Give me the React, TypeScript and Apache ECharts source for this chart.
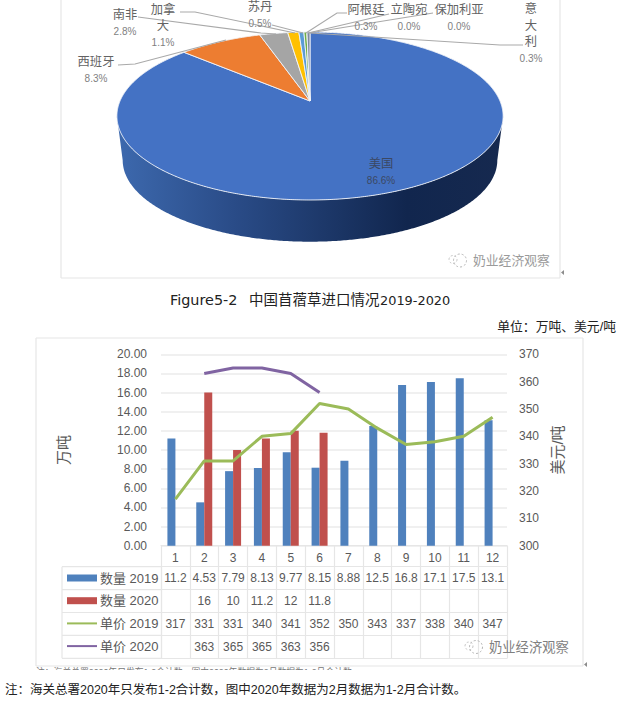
import React, { useEffect, useRef } from "react";
import * as echarts from "echarts";

// ---- data ----
const pieNames = ["美国", "西班牙", "南非", "加拿大", "苏丹", "阿根廷", "立陶宛", "保加利亚", "意大利"];
const pieValues = [86.6, 8.3, 2.8, 1.1, 0.5, 0.3, 0.0, 0.0, 0.3];
const months = ["1", "2", "3", "4", "5", "6", "7", "8", "9", "10", "11", "12"];
const qty2019 = [11.2, 4.53, 7.79, 8.13, 9.77, 8.15, 8.88, 12.5, 16.8, 17.1, 17.5, 13.1];
const qty2020 = [null, 16, 10, 11.2, 12, 11.8, null, null, null, null, null, null];
const price2019 = [317, 331, 331, 340, 341, 352, 350, 343, 337, 338, 340, 347];
const price2020 = [null, 363, 365, 365, 363, 356, null, null, null, null, null, null];
const seriesNames = ["数量 2019", "数量 2020", "单价 2019", "单价 2020"];
const tableRows = [qty2019, qty2020, price2019, price2020];
const leftTicks = [0, 20, 2];
const rightTicks = [300, 370, 10];

// ---- layout and style (separate from the data) ----
const pieColors = ["#4472c4", "#ed7d31", "#a5a5a5", "#ffc000", "#5b9bd5", "#70ad47", "#264478", "#9e480e", "#7f8aa0"];
const labelLayout: any[] = [
  { t: ["美国"], x: 381, y: 172, line: null, fill: "#3b4863", pct: "#3b4863" },
  { t: ["西班牙"], x: 96, y: 70, line: [[118, 65], [135, 64], [226, 40]] },
  { t: ["南非"], x: 125, y: 23, line: [[138, 17], [261, 33], [276, 34]] },
  { t: ["加拿", "大"], x: 163, y: 26, line: [[180, 12], [195, 12], [295, 33]] },
  { t: ["苏丹"], x: 260, y: 15, line: [[272, 25], [303, 33]] },
  { t: ["阿根廷"], x: 366, y: 18, line: [[347, 13], [337, 13], [306, 33]] },
  { t: ["立陶宛"], x: 409, y: 18, line: [[389, 14], [308, 33]] },
  { t: ["保加利亚"], x: 459, y: 18, line: [[433, 13], [309, 33]] },
  { t: ["意", "大", "利"], x: 531, y: 34, line: [[523, 45], [500, 45], [310, 33]] },
];
const CN = '"Liberation Sans","Noto Sans CJK SC",sans-serif';
const TITLE = '"DejaVu Sans","Noto Sans CJK SC",sans-serif';
const GREY = "#595959";
const LINE = "#e6e6e6";
const P = 0.1786;
const PIE = { cx: 310, topApex: 101, botApex: 145.7, A: 190, B: 81.3, botScale: 0.97 };
const G = { l: 161, r: 507, t: 354.3, b: 545.7, rowT: 566.7, rowH: 22.9 };

function project(deg: number, apex: number, s: number) {
  const a = (deg * Math.PI) / 180;
  const X = Math.sin(a);
  const Y = -Math.cos(a);
  const w = 1 - P * Y;
  return [PIE.cx + (s * PIE.A * X) / w, apex + (s * PIE.B * Y) / w];
}
function arc(from: number, to: number, apex: number, s: number) {
  const pts: number[][] = [];
  const n = Math.max(2, Math.ceil(Math.abs(to - from) * 2));
  for (let i = 0; i <= n; i++) pts.push(project(from + ((to - from) * i) / n, apex, s));
  return pts;
}
const total = pieValues.reduce((a, b) => a + b, 0);

function renderPie(params: any, api: any) {
  const i = params.dataIndex;
  let before = 0;
  for (let k = 0; k < i; k++) before += pieValues[k];
  const v = api.value(0) as number;
  const a0 = (before / total) * 360;
  const a1 = ((before + v) / total) * 360;
  const children: any[] = [];
  if (i === 0) {
    const wall = arc(100.3, 259.7, PIE.topApex, 1).concat(arc(259.7, 100.3, PIE.botApex, PIE.botScale));
    children.push({
      type: "polygon",
      shape: { points: wall },
      style: {
        fill: new echarts.graphic.LinearGradient(0, 0, 1, 0, [
          { offset: 0, color: "#3d69ae" },
          { offset: 0.3, color: "#2a4c88" },
          { offset: 0.75, color: "#11264e" },
          { offset: 1, color: "#16294f" },
        ]),
      },
    });
  }
  children.push({
    type: "polygon",
    shape: { points: [[PIE.cx, PIE.topApex], ...arc(a0, a1, PIE.topApex, 1)] },
    style: { fill: pieColors[i], stroke: "#f2f4f8", lineWidth: v > 0 ? 0.9 : 0.3 },
  });
  const lay = labelLayout[i];
  if (lay.line) {
    children.push({
      type: "polyline",
      shape: { points: lay.line },
      style: { fill: "none", stroke: "#a9a9a9", lineWidth: 1.1 },
      z2: 20,
    });
  }
  children.push({
    type: "text",
    x: lay.x,
    y: lay.y,
    z2: 30,
    style: {
      text: [...lay.t.map((s: string) => `{n|${s}}`), `{p|${v.toFixed(1)}%}`].join("\n"),
      align: "center",
      verticalAlign: "middle",
      rich: {
        n: { fontSize: 12.3, lineHeight: 16.5, fontFamily: CN, fill: lay.fill || "#636363", align: "center" },
        p: { fontSize: 10, lineHeight: 16.5, fontFamily: CN, fill: lay.pct || "#7f7f7f", align: "center" },
      },
    },
  });
  return { type: "group", children };
}

function renderCell(params: any, api: any) {
  const m = api.value(0) as number;
  const r = api.value(1) as number;
  const v = tableRows[r][m];
  const c = api.coord([m, r]);
  return {
    type: "text",
    x: c[0],
    y: c[1],
    style: {
      text: v == null ? "" : String(v),
      align: "center",
      verticalAlign: "middle",
      fontSize: 12,
      fontFamily: CN,
      fill: GREY,
    },
  };
}

const cellData: number[][] = [];
tableRows.forEach((row, r) => row.forEach((v, m) => { if (v != null) cellData.push([m, r]); }));

function hline(x1: number, x2: number, y: number, color = LINE, w = 1.2) {
  return { type: "line", z: 1, silent: true, shape: { x1, y1: y, x2, y2: y }, style: { stroke: color, lineWidth: w } };
}
function vline(x: number, y1: number, y2: number, color = LINE, w = 1.2) {
  return { type: "line", z: 1, silent: true, shape: { x1: x, y1, x2: x, y2 }, style: { stroke: color, lineWidth: w } };
}
function text(t: string, x: number, y: number, size: number, fill: string, family = CN, align = "left", z = 5) {
  return { type: "text", z, silent: true, x, y, style: { text: t, fontSize: size, fontFamily: family, fill, align, verticalAlign: "middle" } };
}
function watermark(iconX: number, textX: number, y: number, size: number, fill: string) {
  return [
    { type: "circle", z: 9, silent: true, shape: { cx: iconX, cy: y, r: 6.5 }, style: { fill: "none", stroke: "#b4b4b4", lineWidth: 1, lineDash: [2, 2] } },
    { type: "circle", z: 9, silent: true, shape: { cx: iconX - 7, cy: y - 1, r: 4 }, style: { fill: "none", stroke: "#c4c4c4", lineWidth: 1, lineDash: [2, 2] } },
    text("奶业经济观察", textX, y, size, fill, CN, "left", 9),
  ];
}

const tableLeft = 62;
const graphics: any[] = [
  // frames
  vline(61, 0, 278), vline(560, 0, 278), hline(61, 560, 278),
  vline(36, 338, 666), vline(583, 338, 666), hline(36, 583, 338), hline(36, 583, 666),
  { type: "polygon", z: 2, silent: true, shape: { points: [[564, 270], [561, 272.5], [564, 275]] }, style: { fill: "#8c8c8c" } },
  { type: "polygon", z: 2, silent: true, shape: { points: [[587, 662], [584, 664.5], [587, 667]] }, style: { fill: "#8c8c8c" } },
  // left column of the table
  vline(tableLeft, G.rowT, G.rowT + 4 * G.rowH),
  ...[0, 1, 2, 3, 4].map((i) => hline(tableLeft, G.l, G.rowT + i * G.rowH)),
  // titles and notes
  text("Figure5-2", 170, 300, 14.4, "#222", TITLE),
  text("中国苜蓿草进口情况", 249, 300, 14.5, "#222", TITLE),
  text("2019-2020", 380, 300, 12.9, "#222", TITLE),
  text("单位：万吨、美元/吨", 616, 326, 12.8, "#222", CN, "right"),
  text("注：海关总署2020年只发布1-2合计数，图中2020年数据为2月数据为1-2月合计数。", 36, 672, 8.8, "#777", CN, "left", 3),
  { type: "rect", z: 4, silent: true, shape: { x: 30, y: 670, width: 360, height: 10 }, style: { fill: "#fff" } },
  text("注：海关总署2020年只发布1-2合计数，图中2020年数据为2月数据为1-2月合计数。", 5, 690, 12.5, "#222"),
  ...watermark(460, 473, 260.5, 12.8, "#9a9a9a"),
  ...watermark(476, 489, 647, 13.3, "#7f7f7f"),
];

const axisLabel = { color: GREY, fontSize: 12, fontFamily: CN };

export default function App() {
  const ref = useRef<HTMLDivElement>(null);
  useEffect(() => {
    document.body.style.margin = "0";
    const chart = echarts.init(ref.current!, null, { renderer: "svg" });
    chart.setOption({
      animation: false,
      backgroundColor: "#fff",
      graphic: { elements: graphics },
      legend: {
        orient: "vertical",
        left: 66,
        top: 571.5,
        padding: 0,
        itemWidth: 30,
        itemHeight: 7,
        itemGap: 9.7,
        textStyle: { color: GREY, fontSize: 13, fontFamily: CN, padding: [0, 0, 0, -2] },
        data: [
          { name: seriesNames[0], icon: "rect" },
          { name: seriesNames[1], icon: "rect" },
          { name: seriesNames[2], itemStyle: { opacity: 0 } },
          { name: seriesNames[3], itemStyle: { opacity: 0 } },
        ],
      },
      grid: [
        { left: G.l, right: 622 - G.r, top: G.t, height: G.b - G.t },
        { left: G.l, right: 622 - G.r, top: G.rowT, height: 4 * G.rowH },
      ],
      xAxis: [
        {
          type: "category",
          data: months,
          gridIndex: 0,
          axisLine: { lineStyle: { color: LINE, width: 1.2 } },
          axisTick: { show: true, length: 21, lineStyle: { color: LINE, width: 1.2 } },
          axisLabel: { ...axisLabel, margin: 6, interval: 0 },
        },
        {
          type: "category",
          data: months,
          gridIndex: 1,
          axisLine: { lineStyle: { color: LINE, width: 1.2 } },
          axisTick: { show: false },
          axisLabel: { show: false },
          splitLine: { show: true, interval: 0, lineStyle: { color: LINE, width: 1.2 } },
        },
      ],
      yAxis: [
        {
          type: "value",
          gridIndex: 0,
          min: leftTicks[0],
          max: leftTicks[1],
          interval: leftTicks[2],
          name: "万吨",
          nameLocation: "middle",
          nameGap: 90,
          nameRotate: 90,
          nameTextStyle: { color: GREY, fontSize: 15, fontFamily: CN },
          axisLabel: { ...axisLabel, margin: 14, formatter: (v: number) => v.toFixed(2) },
          axisLine: { show: false },
          axisTick: { show: false },
          splitLine: { lineStyle: { color: "#ebebeb", width: 1.5 } },
        },
        {
          type: "value",
          gridIndex: 0,
          position: "right",
          min: rightTicks[0],
          max: rightTicks[1],
          interval: rightTicks[2],
          name: "美元/吨",
          nameLocation: "middle",
          nameGap: 38,
          nameRotate: 90,
          nameTextStyle: { color: GREY, fontSize: 15, fontFamily: CN },
          axisLabel: { ...axisLabel, margin: 12 },
          axisLine: { show: false },
          axisTick: { show: false },
          splitLine: { show: false },
        },
        {
          type: "category",
          gridIndex: 1,
          inverse: true,
          data: seriesNames,
          axisLine: { show: true, lineStyle: { color: LINE, width: 1.2 } },
          axisTick: { show: false },
          axisLabel: { show: false },
          splitLine: { show: true, interval: 0, lineStyle: { color: LINE, width: 1.2 } },
        },
      ],
      series: [
        {
          type: "custom",
          name: "pie",
          coordinateSystem: "none",
          renderItem: renderPie,
          data: pieValues.map((v, i) => ({ name: pieNames[i], value: [v] })),
          encode: { value: 0 },
          silent: true,
          z: 2,
        },
        {
          type: "bar",
          name: seriesNames[0],
          data: qty2019,
          barWidth: 8,
          barGap: 0,
          itemStyle: { color: "#4f81bd" },
          xAxisIndex: 0,
          yAxisIndex: 0,
        },
        {
          type: "bar",
          name: seriesNames[1],
          data: qty2020,
          barWidth: 8,
          barGap: 0,
          itemStyle: { color: "#c0504d" },
          xAxisIndex: 0,
          yAxisIndex: 0,
        },
        {
          type: "line",
          name: seriesNames[2],
          data: price2019,
          symbol: "none",
          showSymbol: false,
          lineStyle: { color: "#9bbb59", width: 3 },
          itemStyle: { color: "#9bbb59" },
          xAxisIndex: 0,
          yAxisIndex: 1,
        },
        {
          type: "line",
          name: seriesNames[3],
          data: price2020,
          symbol: "none",
          showSymbol: false,
          lineStyle: { color: "#8064a2", width: 3 },
          itemStyle: { color: "#8064a2" },
          xAxisIndex: 0,
          yAxisIndex: 1,
        },
        {
          type: "custom",
          name: "table",
          xAxisIndex: 1,
          yAxisIndex: 2,
          renderItem: renderCell,
          data: cellData,
          encode: { x: 0, y: 1 },
          silent: true,
          z: 4,
        },
      ],
    });
    return () => chart.dispose();
  }, []);
  return <div ref={ref} style={{ width: 622, height: 704 }} />;
}
